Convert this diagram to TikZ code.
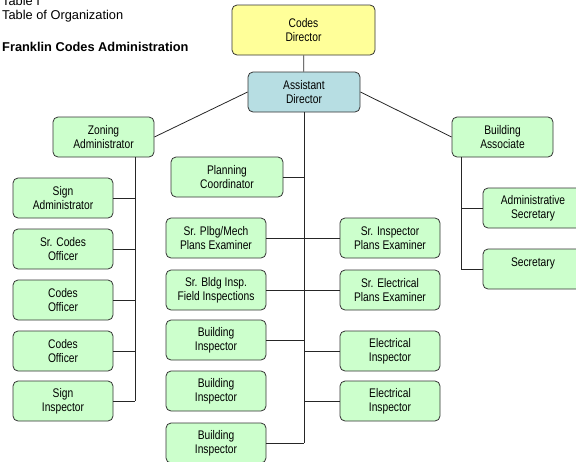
\documentclass[tikz,border=0pt]{standalone}
\usepackage{fontspec}
\setmainfont{Liberation Sans}
\newfontfamily\estreita[FakeStretch=0.82]{Liberation Sans}
\definecolor{amarelo}{HTML}{FFFF99}
\definecolor{azul}{HTML}{B7DEE3}
\definecolor{verde}{HTML}{CCFFCC}
\definecolor{borda}{HTML}{333333}
\begin{document}
\begin{tikzpicture}[x=1pt, y=-1pt,
      caixa/.style={draw=borda, line width=0.8pt, rounded corners=5pt, fill=verde,
        minimum width=100pt, minimum height=40pt, inner sep=0pt, align=center,
        font=\estreita\fontsize{12.5}{14}\selectfont},
      titulo/.style={anchor=base west, inner sep=0pt, font=\fontsize{12.8}{14}\selectfont},
      linha/.style={line width=0.8pt, black!85}]
    \useasboundingbox (0,0) rectangle (576,461);
    \clip (0,0) rectangle (576,461);

    % 1. Títulos
    \node[titulo] (tab) at (2,5) {Table I};
    \node[titulo] (org) at (2,19) {Table of Organization};
    \node[titulo, font=\bfseries\fontsize{12.8}{14}\selectfont] (fca) at (2,51) {Franklin Codes Administration};

    % 2. Direção
    \node[caixa, fill=amarelo, minimum width=143pt, minimum height=50pt] (cd) at (303.5,30) {Codes\\Director};
    \node[caixa, fill=azul, minimum width=112pt] (ad) at (304,92) {Assistant\\Director};
    \node[caixa, minimum width=101pt] (za) at (103.5,137) {Zoning\\Administrator};
    \node[caixa, minimum width=101pt] (ba) at (502.5,137) {Building\\Associate};
    \node[caixa, minimum width=112pt] (pc) at (227,177) {Planning\\Coordinator};

    % 3. Coluna do zoneamento
    \foreach \i/\y/\txt in {1/198/{Sign\\Administrator}, 2/249/{Sr. Codes\\Officer},
        3/300/{Codes\\Officer}, 4/351/{Codes\\Officer}, 5/401/{Sign\\Inspector}} {
      \node[caixa] (z\i) at (63,\y) {\txt};
    }

    % 4. Colunas do centro
    \foreach \i/\y/\txt in {1/238/{Sr. Plbg/Mech\\Plans Examiner}, 2/290/{Sr. Bldg Insp.\\Field Inspections},
        3/340/{Building\\Inspector}, 4/391/{Building\\Inspector}, 5/443/{Building\\Inspector}} {
      \node[caixa] (e\i) at (216,\y) {\txt};
    }
    \foreach \i/\y/\txt in {1/238/{Sr. Inspector\\Plans Examiner}, 2/290/{Sr. Electrical\\Plans Examiner},
        3/351/{Electrical\\Inspector}, 4/401/{Electrical\\Inspector}} {
      \node[caixa] (d\i) at (390,\y) {\txt};
    }

    % 5. Secretaria
    \node[caixa] (as) at (533,208) {Administrative\\Secretary};
    \node[caixa] (sec) at (533,269) {Secretary\\ \mbox{}};

    % 6. Ligações
    \coordinate (zt) at ([xshift=31.5pt]za.south);   % tronco do zoneamento
    \coordinate (bt) at ([xshift=-41.5pt]ba.south);  % tronco da secretaria

    \draw[linha] (cd) -- (ad);
    \draw[linha] (ad.west) -- (za.east);
    \draw[linha] (ad.east) -- (ba.west);
    \draw[linha] (ad.south) -- (ad.south |- e5.east);

    \draw[linha] (pc.east) -- (pc.east -| ad.south);
    \draw[linha] (e1.east) -- (d1.west);
    \draw[linha] (e2.east) -- (d2.west);
    \draw[linha] (e3.east) -- (e3.east -| ad.south);
    \draw[linha] (e5.east) -- (e5.east -| ad.south);
    \draw[linha] (d3.west) -- (d3.west -| ad.south);
    \draw[linha] (d4.west) -- (d4.west -| ad.south);

    \draw[linha] (zt) -- (zt |- z5.east);
    \foreach \i in {1,...,5} {
      \draw[linha] (z\i.east) -- (z\i.east -| zt);
    }

    \draw[linha] (bt) -- (bt |- sec.west);
    \draw[linha] (as.west) -- (as.west -| bt);
    \draw[linha] (sec.west) -- (sec.west -| bt);

    \end{tikzpicture}
\end{document}
